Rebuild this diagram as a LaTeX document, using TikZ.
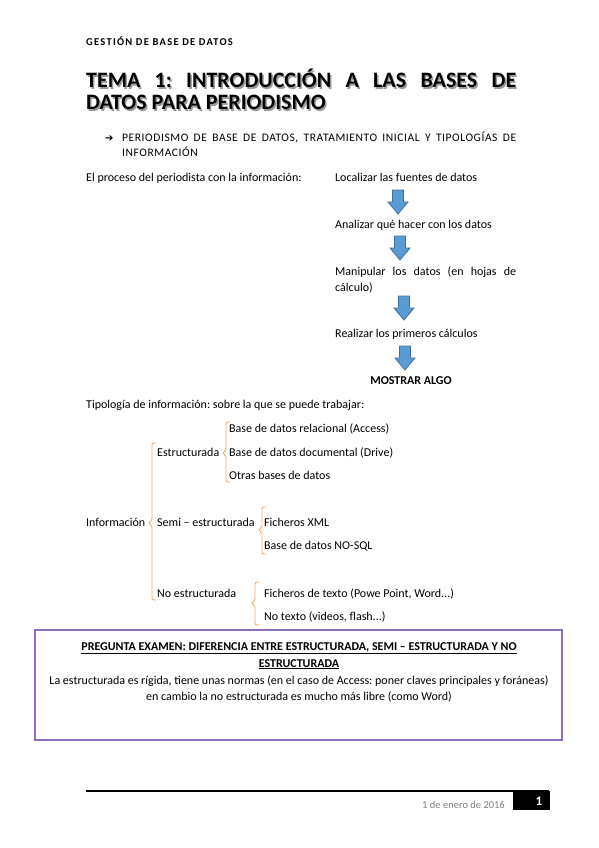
\documentclass[tikz,border=0pt]{standalone}
\usepackage{fontspec}
\setmainfont{Carlito}
\newfontfamily\symfont{DejaVu Sans}
\usetikzlibrary{positioning}
\definecolor{arrowblue}{HTML}{5B9BD5}
\definecolor{arrowedge}{HTML}{41719C}
\definecolor{braceorange}{HTML}{F8A86A}
\definecolor{boxpurple}{HTML}{8E6FBF}
\definecolor{footgray}{HTML}{7F7F7F}
\definecolor{shadowgray}{HTML}{9A9A9A}
\hyphenpenalty=10000
\exhyphenpenalty=10000
\frenchspacing

\tikzset{
  blockarrow/.pic={
    \draw[arrowfill] (-5.5,0) -- (5.5,0) -- (5.5,12) -- (10,12) -- (0,24)
      -- (-10,12) -- (-5.5,12) -- cycle;
  }
}
% left brace: x, top, middle, bottom
\newcommand{\leftbrace}[4]{%
  \draw[brace] ({#1+4},#2) -- (#1,#2) -- (#1,{#3-2}) -- ({#1-4},#3)
    -- (#1,{#3+2}) -- (#1,#4) -- ({#1+4},#4);}

\begin{document}
\begin{tikzpicture}[
  x=1pt, y=-1pt,
  body/.style={anchor=base west, inner sep=0pt, font=\fontsize{12}{16}\selectfont},
  mid/.style={anchor=base, inner sep=0pt, font=\fontsize{12}{16}\selectfont},
  head/.style={anchor=base west, inner sep=0pt,
               font=\fontsize{10.5}{12}\bfseries\addfontfeatures{LetterSpace=12}\selectfont},
  titletxt/.style={anchor=base west, inner sep=0pt, text width=430pt, align=justify,
                   font=\fontsize{22}{22}\bfseries\selectfont},
  subcaps/.style={anchor=base west, inner sep=0pt, text width=394pt, align=justify,
                  font=\fontsize{11.5}{16}\addfontfeatures{LetterSpace=5}\selectfont},
  brace/.style={draw=braceorange, line width=0.9pt, rounded corners=2pt},
  arrowfill/.style={fill=arrowblue, draw=arrowedge, line width=0.8pt},
  exambox/.style={draw=boxpurple, line width=1.3pt, minimum width=527pt,
                  minimum height=110pt, inner sep=0pt},
]
\useasboundingbox (0,0) rectangle (599,848);

% header
\node[head] (header) at (86,46) {GESTIÓN DE BASE DE DATOS};

% title with shadow
\node[titletxt, text=shadowgray] (titleshadow) at (87.5,89.5)
  {TEMA 1: INTRODUCCIÓN A LAS BASES DE\linebreak DATOS PARA PERIODISMO};
\node[titletxt] (title) at (86,88)
  {TEMA 1: INTRODUCCIÓN A LAS BASES DE\linebreak DATOS PARA PERIODISMO};

% subtitle
\node[anchor=base west, inner sep=0pt, font=\symfont\fontsize{10}{10}\selectfont]
  (bullet) at (105,141) {➔};
\node[subcaps] (subtitle) at (122,141)
  {PERIODISMO DE BASE DE DATOS, TRATAMIENTO INICIAL Y TIPOLOGÍAS DE INFORMACIÓN};

% process
\node[body] (proceso) at (86,181) {El proceso del periodista con la información:};
\node[body] (p1) at (335,181) {Localizar las fuentes de datos};
\node[body] (p2) at (335,228) {Analizar qué hacer con los datos};
\node[body, text width=181pt, align=justify] (p3) at (335,275)
  {Manipular los datos (en hojas de cálculo)};
\node[body] (p4) at (335,337) {Realizar los primeros cálculos};
\node[mid, font=\fontsize{12}{16}\bfseries\selectfont] (p5) at (411,384) {MOSTRAR ALGO};
\pic at (398,190) {blockarrow};
\pic at (400,236) {blockarrow};
\pic at (404,296) {blockarrow};
\pic at (405,346) {blockarrow};

% tipologia
\node[body] (tipo) at (86,408) {Tipología de información: sobre la que se puede trabajar:};
\node[body] (info) at (86,526) {Información};
\node[body] (estr) at (157,456) {Estructurada};
\node[body] (semi) at (157,526) {Semi – estructurada};
\node[body] (noestr) at (157,597) {No estructurada};
\node[body] (e1) at (229,432) {Base de datos relacional (Access)};
\node[body] (e2) at (229,456) {Base de datos documental (Drive)};
\node[body] (e3) at (229,479) {Otras bases de datos};
\node[body] (s1) at (264,526) {Ficheros XML};
\node[body] (s2) at (264,549) {Base de datos NO-SQL};
\node[body] (n1) at (264,597) {Ficheros de texto (Powe Point, Word...)};
\node[body] (n2) at (264,620) {No texto (videos, flash...)};
\leftbrace{152}{443}{523}{600}
\leftbrace{226}{422}{453}{482}
\leftbrace{262}{507}{530}{554}
\leftbrace{255}{582}{603}{625}

% exam box
\node[exambox] (box) at (298.5,685) {};
\node[mid, font=\fontsize{12}{16}\bfseries\selectfont] (q1) at (299,650)
  {\underline{PREGUNTA EXAMEN: DIFERENCIA ENTRE ESTRUCTURADA, SEMI – ESTRUCTURADA Y NO}};
\node[mid, font=\fontsize{12}{16}\bfseries\selectfont] (q2) at (299,667) {\underline{ESTRUCTURADA}};
\node[mid] (a1) at (299,684)
  {La estructurada es rígida, tiene unas normas (en el caso de Access: poner claves principales y foráneas)};
\node[mid] (a2) at (299,700) {en cambio la no estructurada es mucho más libre (como Word)};

% footer
\draw[line width=1.5pt] (86,791) -- (549,791);
\node[fill=black, minimum width=37pt, minimum height=19pt, inner sep=0pt] (pagebox) at (531.5,800.5) {};
\node[anchor=base, inner sep=0pt, text=white, font=\fontsize{13}{14}\bfseries\selectfont]
  (pagenum) at (539,805.5) {1};
\node[anchor=base east, inner sep=0pt, text=footgray, font=\fontsize{10.5}{12}\selectfont]
  (fecha) at (505,808) {1 de enero de 2016};
\end{tikzpicture}
\end{document}
